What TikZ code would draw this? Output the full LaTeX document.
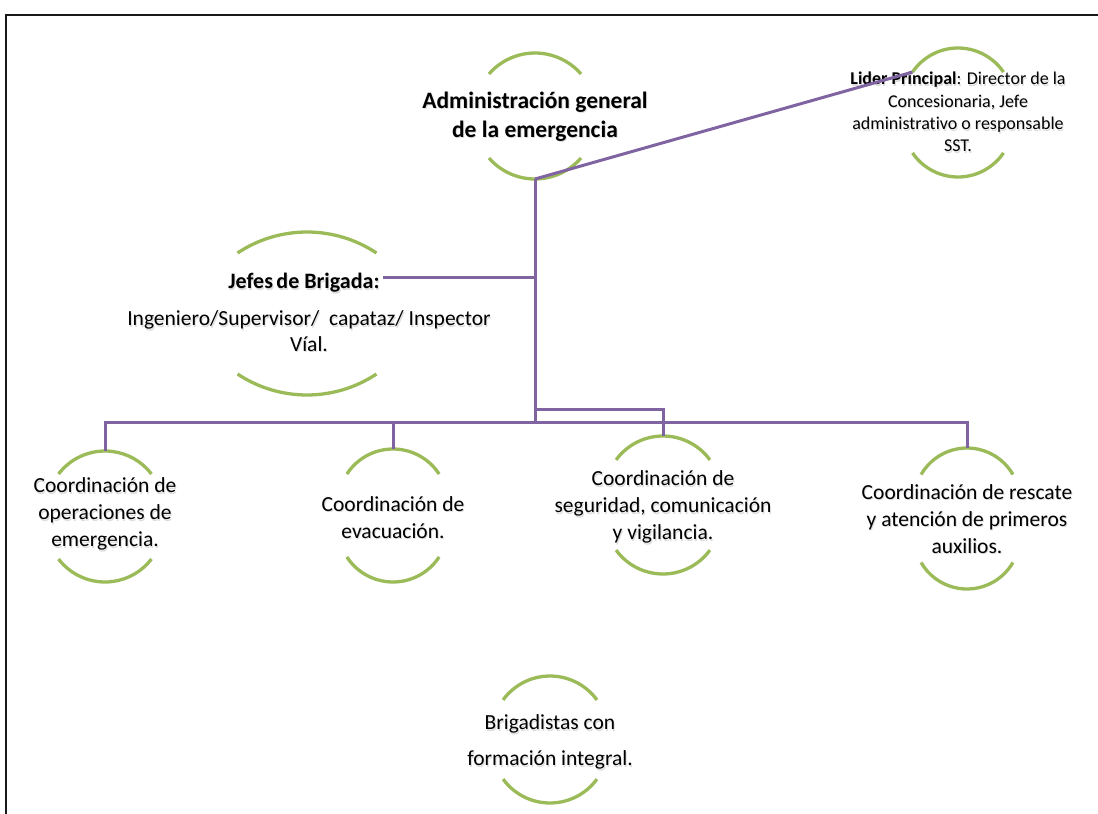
\documentclass[tikz,border=0pt]{standalone}
\usepackage{fontspec}
\setmainfont{Carlito}[Ligatures=NoCommon]
\definecolor{linkpurple}{HTML}{8064A2}
\definecolor{rimgreen}{HTML}{9BBB59}
\tikzset{
  link/.style={draw=linkpurple, line width=3pt},
  rim/.style={draw=rimgreen, line width=3.3pt},
  txt/.style={inner sep=0pt, align=center, font=\fontsize{21.5}{27}\selectfont},
  ghost/.style={text=black!30, opacity=.45},
  % open circle: #1 apex distance, #2 arc radius, #3 half span of the arc
  pics/bubble/.style n args={3}{code={
    \coordinate (-top) at (0,#1);
    \coordinate (-bot) at (0,-#1);
    \draw[rim] ([shift={(90+#3:#2pt)}]0,{#1-#2}) coordinate (-tl)
      arc[start angle=90+#3, end angle=90-#3, radius=#2pt];
    \draw[rim] ([shift={(270-#3:#2pt)}]0,{#2-#1})
      arc[start angle=270-#3, end angle=270+#3, radius=#2pt];
  }}
}
% text with its soft drop shadow
\newcommand\shadowtext[4]{%
  \node[txt,#3,ghost] at ([shift={(1,-1.6)}]#2) {#4};
  \node[txt,#3] (#1) at (#2) {#4};}

\begin{document}
\begin{tikzpicture}[x=1pt, y=1pt]
    \useasboundingbox (0,0) rectangle (1098,-814);
    \draw[line width=2.8pt, black!90] (6,-814) -- (6,-15) -- (1098,-15);

    \pic (admin) at (535,-116) {bubble={63}{61}{49}};
    \pic (lider) at (958,-112.5) {bubble={64.5}{55}{55.8}};
    \pic (jefes) at (307,-313.5) {bubble={81.5}{125.5}{33.6}};
    \pic (oper) at (105,-516.5) {bubble={65.5}{58.5}{52.6}};
    \pic (evac) at (393,-515.5) {bubble={66.5}{55}{57}};
    \pic (segu) at (663,-505) {bubble={69}{58}{54}};
    \pic (resc) at (967,-518.5) {bubble={70.5}{53}{60}};
    \pic (brig) at (550,-739.5) {bubble={63.5}{58}{54}};

    \shadowtext{admintxt}{535,-116.5}{font=\fontsize{23.5}{29}\selectfont\bfseries}
      {Administración general\\de la emergencia}
    \shadowtext{lidertxt}{958,-112}{font=\fontsize{18}{22.4}\selectfont}
      {\textbf{Lider Principal}: Director de la\\Concesionaria, Jefe\\administrativo o responsable\\SST.}
    \shadowtext{jefeshead}{304,-283}{font=\fontsize{22}{27}\selectfont\bfseries}
      {Jefes\hspace{-1.5pt} de Brigada:}
    \shadowtext{jefestxt}{309,-331}{font=\fontsize{21.5}{25.5}\selectfont}
      {Ingeniero/Supervisor/\ \ capataz/ Inspector\\Víal.}
    \shadowtext{opertxt}{105,-514}{}{Coordinación de\\operaciones de\\emergencia.}
    \shadowtext{evactxt}{393,-517.5}{}{Coordinación de\\evacuación.}
    \shadowtext{segutxt}{663,-507}{}{Coordinación de\\seguridad, comunicación\\y vigilancia.}
    \shadowtext{resctxt}{967,-519}{}{Coordinación de rescate\\y atención de primeros\\auxilios.}
    \shadowtext{brigtxt}{550,-742}{font=\fontsize{21.5}{36}\selectfont}
      {Brigadistas con\\formación integral.}

    % connectors
    \coordinate (bus) at (535,-422);
    \coordinate (tap) at (535,-409);
    \draw[link] (admin-bot) -- (lider-tl);
    \draw[link] (admin-bot) -- (bus);
    \draw[link] ([shift={(3,6)}]jefeshead.east) -- ([yshift=6pt]jefeshead.east -| admin-bot);
    \draw[link] (oper-top) -- (oper-top |- bus) -- (resc-top |- bus) -- (resc-top);
    \draw[link] (evac-top) -- (evac-top |- bus);
    \draw[link] (tap) -| (segu-top);
\end{tikzpicture}
\end{document}
